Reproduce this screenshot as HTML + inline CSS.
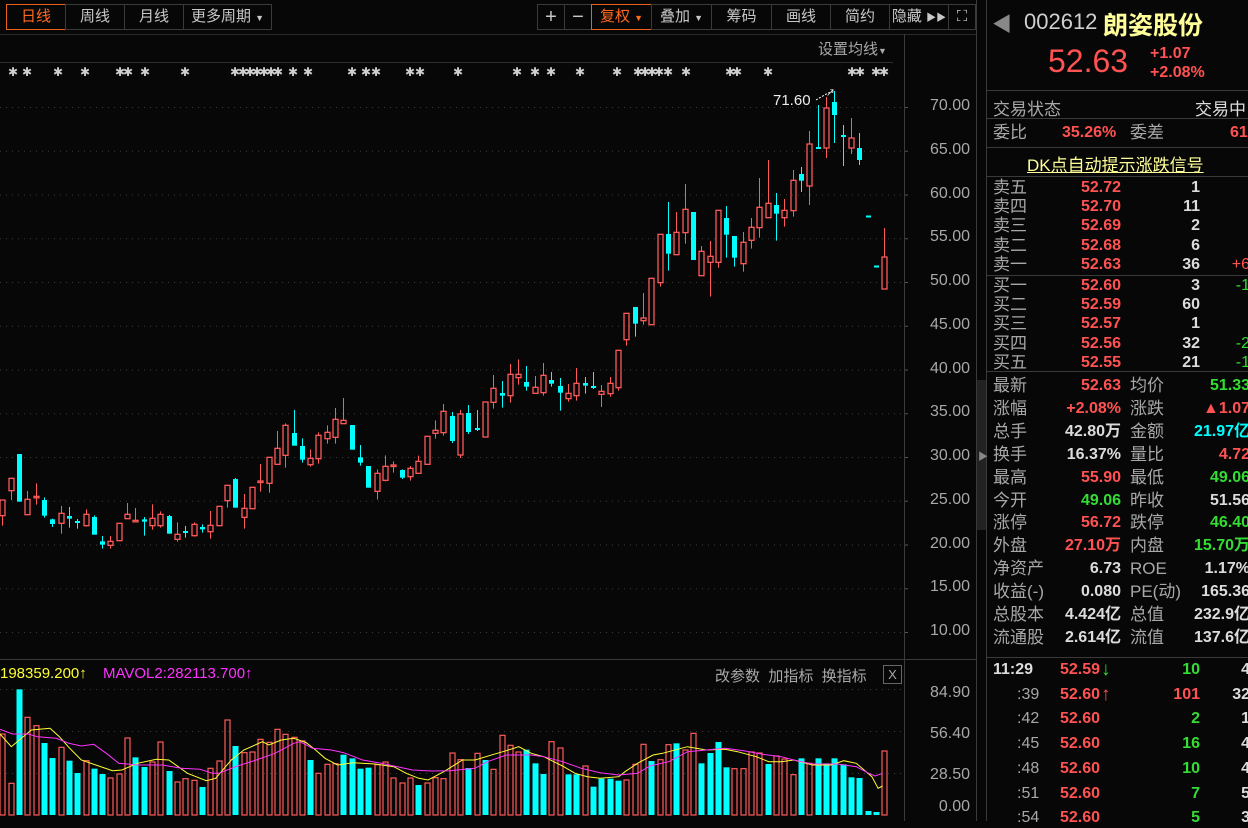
<!DOCTYPE html>
<html><head><meta charset="utf-8">
<style>
html,body{margin:0;padding:0;width:1248px;height:821px;overflow:hidden;background:#070707;font-family:"Liberation Sans","Noto Sans CJK SC",sans-serif;}
.a{position:absolute;white-space:nowrap;}
.btn{position:absolute;top:4px;height:26px;border:1px solid #3a3a3a;box-sizing:border-box;color:#c8c8c8;font-size:15px;line-height:24px;text-align:center;}
.on{border-color:#e8641e;color:#ff6a1e;}
.g{color:#a8a8a8;}
.r{color:#ff5252;font-weight:bold;}
.gr{color:#33dd33;font-weight:bold;}
.w{color:#dcdcdc;font-weight:bold;}
.hl{position:absolute;left:986px;width:262px;height:1px;background:#3a3a3a;}
.ax{position:absolute;left:912px;width:58px;text-align:right;color:#a8a8a8;font-size:16px;}
#rp .a{line-height:20px;}
</style></head><body>
<svg id="s" width="1248" height="821" style="position:absolute;left:0;top:0"></svg>

<div class="btn on" style="left:6px;width:60px">日线</div>
<div class="btn" style="left:65px;width:60px">周线</div>
<div class="btn" style="left:124px;width:60px">月线</div>
<div class="btn" style="left:183px;width:89px">更多周期 <span style="font-size:9px">▼</span></div>
<div class="btn" style="left:537px;width:28px;font-size:20px">+</div>
<div class="btn" style="left:564px;width:28px;font-size:20px">−</div>
<div class="btn on" style="left:591px;width:61px">复权 <span style="font-size:9px">▼</span></div>
<div class="btn" style="left:651px;width:61px">叠加 <span style="font-size:9px">▼</span></div>
<div class="btn" style="left:711px;width:61px">筹码</div>
<div class="btn" style="left:771px;width:60px">画线</div>
<div class="btn" style="left:830px;width:60px">简约</div>
<div class="btn" style="left:889px;width:60px">隐藏 <span style="font-size:10px">▶▶</span></div>
<div class="btn" style="left:948px;width:28px;font-size:15px">⛶</div>

<div class="a g" style="left:818px;top:38px;font-size:15px">设置均线<span style="font-size:9px">▼</span></div>
<div class="a" style="left:773px;top:92px;font-size:15px;color:#eee">71.60</div>

<div class="ax" style="top:97px">70.00</div>
<div class="ax" style="top:141px">65.00</div>
<div class="ax" style="top:185px">60.00</div>
<div class="ax" style="top:228px">55.00</div>
<div class="ax" style="top:272px">50.00</div>
<div class="ax" style="top:316px">45.00</div>
<div class="ax" style="top:360px">40.00</div>
<div class="ax" style="top:403px">35.00</div>
<div class="ax" style="top:447px">30.00</div>
<div class="ax" style="top:491px">25.00</div>
<div class="ax" style="top:535px">20.00</div>
<div class="ax" style="top:578px">15.00</div>
<div class="ax" style="top:622px">10.00</div>
<div class="ax" style="top:684px">84.90</div>
<div class="ax" style="top:725px">56.40</div>
<div class="ax" style="top:766px">28.50</div>
<div class="ax" style="top:798px">0.00</div>

<div class="a" style="left:0;top:665px;font-size:15px;color:#ffff33">198359.200↑</div>
<div class="a" style="left:103px;top:665px;font-size:15px;color:#ff33ff">MAVOL2:282113.700↑</div>
<div class="a g" style="left:715px;top:665px;font-size:15px">改参数 &nbsp;加指标 &nbsp;换指标</div>
<div class="a g" style="left:883px;top:665px;width:17px;height:17px;border:1px solid #666;font-size:13px;line-height:17px;text-align:center">X</div>

<div class="a" style="left:992px;top:8px;font-size:20px;color:#888">◀</div>
<div class="a" style="left:1024px;top:9px;font-size:22px;color:#cfcfcf">002612</div>
<div class="a" style="left:1103px;top:6px;font-size:25px;color:#ffff99;font-weight:bold">朗姿股份</div>
<div class="a" style="left:1048px;top:43px;font-size:32px;color:#ff5252">52.63</div>
<div class="a r" style="left:1150px;top:45px;font-size:16px">+1.07</div>
<div class="a r" style="left:1150px;top:64px;font-size:16px">+2.08%</div>
<div class="hl" style="top:90px"></div>
<div class="a g" style="left:993px;top:95px;font-size:17px">交易状态</div>
<div class="a" style="left:1195px;top:95px;font-size:17px;color:#ddd">交易中</div>
<div class="hl" style="top:118px"></div>
<div class="a g" style="left:993px;top:123px;font-size:17px;line-height:20px">委比</div>
<div class="a r" style="left:1062px;top:123px;font-size:16px;line-height:20px">35.26%</div>
<div class="a g" style="left:1130px;top:123px;font-size:17px;line-height:20px">委差</div>
<div class="a r" style="left:1230px;top:123px;font-size:16px;line-height:20px">61</div>
<div class="hl" style="top:147px"></div>
<div class="a" style="left:1027px;top:151px;font-size:17px;color:#ffff99;text-decoration:underline">DK点自动提示涨跌信号</div>
<div class="hl" style="top:176px"></div>
<div class="hl" style="top:275px"></div>
<div class="hl" style="top:371px"></div>
<div class="hl" style="top:657px"></div>
<div id="rp"></div>

<script>
var NS="http://www.w3.org/2000/svg",S=document.getElementById('s');
function el(t,a){var e=document.createElementNS(NS,t);for(var k in a)e.setAttribute(k,a[k]);S.appendChild(e);return e;}
var py=[107,150.75,194.5,238.25,282,325.75,369.5,413.25,457,500.75,544.5,588.25,632];
py.forEach(function(y){el('line',{x1:0,y1:y+.5,x2:903,y2:y+.5,stroke:'#3c3c3c','stroke-dasharray':'1,5'});el('line',{x1:904,y1:y+.5,x2:908,y2:y+.5,stroke:'#555'});});
[689,731,773].forEach(function(y){el('line',{x1:0,y1:y+.5,x2:903,y2:y+.5,stroke:'#3c3c3c','stroke-dasharray':'1,5'});});
el('line',{x1:0,y1:62.5,x2:893,y2:62.5,stroke:'#2e2e2e'});
el('line',{x1:0,y1:34.5,x2:976,y2:34.5,stroke:'#2a2a2a'});
el('line',{x1:904.5,y1:34,x2:904.5,y2:821,stroke:'#3a3a3a'});
el('line',{x1:0,y1:659.5,x2:976,y2:659.5,stroke:'#3a3a3a'});
el('line',{x1:976.5,y1:0,x2:976.5,y2:821,stroke:'#3a3a3a'});
el('line',{x1:986.5,y1:0,x2:986.5,y2:821,stroke:'#3a3a3a'});
el('rect',{x:977,y:380,width:9,height:150,fill:'#222'});
el('text',{x:978,y:460,fill:'#888','font-size':10}).textContent='▶';
[13,27,58,85,120,128,145,185,235,243,250,257,264,271,278,293,308,352,366,376,410,420,458,517,535,551,580,617,638,645,652,659,668,686,730,737,768,852,860,876,884].forEach(function(x){var t=el('text',{x:x,y:76,fill:'#cfcfcf','font-size':12,'text-anchor':'middle','font-family':'DejaVu Sans'});t.textContent='✱';});
var A=[['R',360,407,360,437],['R',295,332,295,360],['C',222,365,222,365],['R',358,404,333,404],['R',349,351,310,374],['C',360,407,352,413],['C',418,432,416,441],['R',400,430,378,461],['C',408,416,381,443],['C',423,428,417,446],['R',403,437,388,440],['C',411,464,406,464],['C',484,494,468,506],['R',484,496,468,506],['R',430,482,430,482],['R',403,416,369,416],['R',421,424,384,424],['C',418,425,411,467],['R',415,437,373,449],['R',403,437,394,443],['C',408,461,405,461],['R',463,478,427,485],['C',453,458,438,473],['R',433,467,427,470],['C',441,448,433,458],['R',436,455,393,476],['R',379,437,379,437],['R',316,362,316,383],['C',297,383,294,383],['R',385,412,342,446],['R',322,386,322,386],['R',303,305,252,335],['R',232,310,232,338],['R',205,253,153,253],['R',136,226,130,263],['C',159,197,90,197],['C',198,239,175,248],['R',235,254,208,260],['R',166,236,157,251],['R',157,176,136,191],['R',118,172,84,191],['R',121,131,54,131],['C',135,209,135,209],['C',232,248,195,257],['C',258,323,258,323],['R',280,334,268,359],['R',259,301,226,304],['R',255,257,244,278],['C',270,293,268,297],['R',265,290,258,302],['R',244,280,227,280],['R',169,253,169,253],['R',151,160,121,176],['R',94,158,72,167]];
var D=[];
A.forEach(function(c){D.push([c[0],380+c[1]/3,380+c[2]/3,380+c[3]/3,380+c[4]/3]);});
[['C',416,441,412,443],['R',414,455,410,458],['C',413,432,405,434],['C',428,430,410,431],['R',402,437,402,437]].forEach(function(c){D.push(c);});
var B=[['R',655,697,615,716],['C',669,677,633,713],['R',613,677,582,698],['R',613,623,568,644],['C',636,650,588,662],['R',652,670,618,670],['R',616,668,579,677],['C',630,641,606,650],['C',648,668,624,722],['R',670,686,642,695],['R',640,677,594,692],['C',639,647,621,671],['C',648,654,606,657],['R',664,673,645,711],['R',640,671,621,680],['R',541,653,541,662],['R',430,509,430,527],['C',411,461,411,500],['R',444,452,369,464],['R',325,464,325,464],['R',193,338,193,350],['C',192,251,96,302],['R',187,254,126,254],['R',118,188,42,221],['C',126,270,126,270],['R',244,317,228,317],['R',259,277,213,380],['R',121,277,121,293],['C',144,194,108,263],['C',198,263,198,290],['R',217,281,186,305],['R',172,211,144,236],['R',112,173,24,203],['R',100,143,-30,143],['C',105,131,69,212],['R',121,143,87,170],['R',31,122,0,140],['C',12,32,-9,66]];
B.forEach(function(c){D.push([c[0],170+c[1]/3,170+c[2]/3,170+c[3]/3,170+c[4]/3]);});
[['R',144,186,131,205],['C',147,149,105,149],['R',108,148,97,158],['C',102,115,91,143],['C',135,137,125,166],['R',138,148,118,154],['C',148,160,133,165],['C',215.5,217,215.5,217],['C',265.5,267,265.5,267],['R',257,289,228,289]].forEach(function(c){D.push(c);});
var RED='#ff5a5a',CY='#00ffff';
D.forEach(function(c,i){
 var x=Math.round(2.3+i*8.32);var cx=x+0.5;
 if(c[0]=='R'){
  if(c[3]<c[1])el('line',{x1:cx,y1:c[3],x2:cx,y2:c[1],stroke:RED});
  if(c[4]>c[2])el('line',{x1:cx,y1:c[2],x2:cx,y2:c[4],stroke:RED});
  var h=Math.max(c[2]-c[1],1.5);
  el('rect',{x:x-2,y:c[1],width:5,height:h,fill:'none',stroke:RED,'stroke-width':1.3});
 }else{
  el('line',{x1:cx,y1:c[3],x2:cx,y2:c[4],stroke:CY});
  el('rect',{x:x-2,y:c[1],width:5,height:Math.max(c[2]-c[1],2),fill:CY});
 }
});
el('polyline',{points:'816,100 828,93 833,92',fill:'none',stroke:'#fff','stroke-dasharray':'2,1.5'});
el('text',{x:826,y:96,fill:'#fff','font-size':9}).textContent='↗';
var V='R222,R370,C88,R172,R197,C249,C294,R262,C302,C339,R302,C326,C342,R354,R342,R234,C292,C321,R306,R246,C333,R366,R356,R361,C381,R325,R303,R180,C258,R278,R276,R238,R247,R208,R223,R232,R243,C300,R340,R313,R311,C284,C295,C326,C323,R314,R306,R354,R369,R354,C375,R369,R353,R356,R279,R299,C324,R280,C300,R328,R226,R256,R276,C269,C310,C342,R245,R264,C343,C343,R318,C380,C356,C356,C362,R360,R313,R253,C303,R299,R254,C250,R270,R220,C310,C279,C246,C322,R326,R326,R276,R279,C312,R288,R297,R344,C295,R310,C295,C310,C295,C313,C352,C354,C453,C456,R273'.split(',');
V.forEach(function(v,i){var x=Math.round(2.3+i*8.32);var t=660+(+v.slice(1))/3;
 if(v[0]=='R')el('rect',{x:x-2,y:t,width:5,height:815-t,fill:'none',stroke:RED,'stroke-width':1.2});
 else el('rect',{x:x-2.5,y:t,width:6,height:815-t,fill:CY});});
function pl(s,col){var p=s.split(' ').map(function(q){var a=q.split(',');return (a[0]/1.6).toFixed(1)+','+(660+a[1]/3).toFixed(1);}).join(' ');el('polyline',{points:p,fill:'none',stroke:col,'stroke-width':1});}
pl('0,222 18,260 50,210 80,205 95,230 110,262 130,300 180,332 195,330 220,310 250,298 270,300 300,340 330,362 345,355 370,300 390,270 420,245 430,255 450,240 470,235 490,248 505,270 520,295 540,315 565,308 600,312 630,320 650,340 670,355 685,360 710,335 740,300 760,300 790,283 810,272 830,260 850,280 870,290 900,318 920,340 940,350 960,355 990,350 1000,335 1020,310 1045,285 1060,280 1100,260 1130,270 1160,268 1180,275 1210,290 1230,305 1250,305 1270,300 1300,315 1330,315 1350,302 1370,310 1395,350 1405,385 1412,378','#ffff33');
pl('0,208 20,222 45,222 60,230 90,235 110,250 130,258 150,253 170,280 190,310 220,315 260,315 290,325 320,328 340,340 350,340 380,318 410,300 440,280 470,250 480,245 500,265 530,270 550,278 580,300 610,310 630,318 660,330 690,333 720,332 760,325 780,305 810,285 850,285 870,290 900,305 930,325 960,338 990,345 1020,340 1040,318 1070,305 1100,275 1130,270 1160,265 1190,272 1220,283 1250,290 1270,300 1300,312 1340,312 1370,320 1390,340 1400,348 1412,340','#ff33ff');

var rp='';
function T(x,y,cls,txt,align,fs,extra){fs=fs||17;extra=extra||'';var pos=align=='r'?'right:'+(1248-x)+'px':'left:'+x+'px';rp+='<div class="a '+cls+'" style="'+pos+';top:'+y+'px;font-size:'+fs+'px;'+extra+'">'+txt+'</div>';}
var ob=[['卖五','52.72','1',''],['卖四','52.70','11',''],['卖三','52.69','2',''],['卖二','52.68','6',''],['卖一','52.63','36','+6'],['买一','52.60','3','-1'],['买二','52.59','60',''],['买三','52.57','1',''],['买四','52.56','32','-2'],['买五','52.55','21','-1']];
ob.forEach(function(o,i){var y=(i<5?188:286)+(i%5)*19.2-10;T(993,y,'g',o[0],'l',17);T(1121,y,'r',o[1],'r',16);T(1200,y,'w',o[2],'r',16);if(o[3])T(1250,y,o[3][0]=='+'?'':'gr',o[3],'r',16,o[3][0]=='+'?'color:#ff5252':'font-weight:normal');});
var st=[['最新','52.63','r','均价','51.33','gr'],['涨幅','+2.08%','r','涨跌','▲1.07','r'],['总手','42.80万','w','金额','21.97亿','cy'],['换手','16.37%','w','量比','4.72','r'],['最高','55.90','r','最低','49.06','gr'],['今开','49.06','gr','昨收','51.56','w'],['涨停','56.72','r','跌停','46.40','gr'],['外盘','27.10万','r','内盘','15.70万','gr'],['净资产','6.73','w','ROE','1.17%','w'],['收益(-)','0.080','w','PE(动)','165.36','w'],['总股本','4.424亿','w','总值','232.9亿','w'],['流通股','2.614亿','w','流值','137.6亿','w']];
st.forEach(function(s,i){var y=386+i*22.9-10;T(993,y,'g',s[0]);T(1121,y,s[2],s[1],'r',16);T(1130,y,'g',s[3]);
 if(s[5]=='cy')T(1250,y,'w',s[4],'r',16,'color:#00ffff');else T(1250,y,s[5],s[4],'r',16);});
var tr=[['11:29','52.59','↓','10','4','gr'],[':39','52.60','↑','101','32','r'],[':42','52.60','','2','1','gr'],[':45','52.60','','16','4','gr'],[':48','52.60','','10','4','gr'],[':51','52.60','','7','5','gr'],[':54','52.60','','5','3','gr']];
tr.forEach(function(t,i){var y=670+i*24.7-10;T(i==0?993:1017,y,i==0?'w':'g',t[0],'l',16);T(1100,y,'r',t[1],'r',16);if(t[2])T(1101,y,t[2]=='↓'?'gr':'r',t[2],'l',19);T(1200,y,t[5],t[3],'r',16);T(1250,y,'w',t[4],'r',16);});
document.getElementById('rp').innerHTML=rp;
</script>
</body></html>
